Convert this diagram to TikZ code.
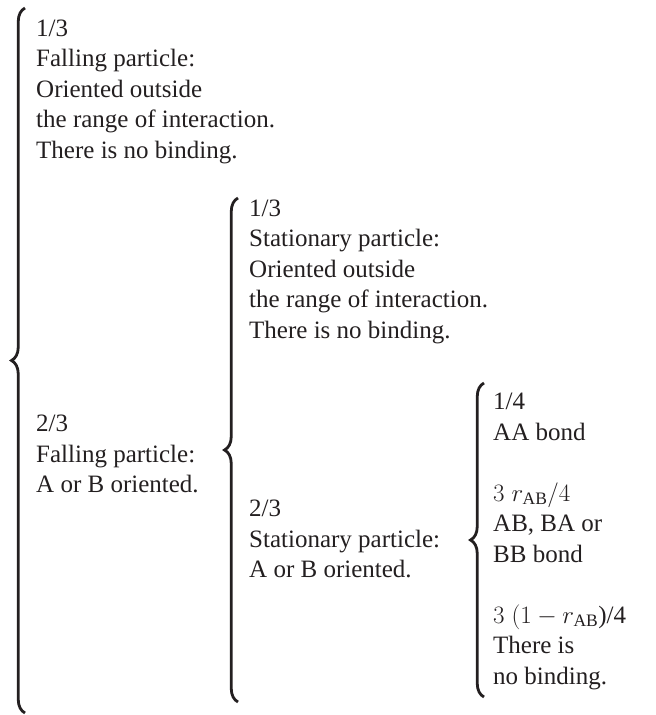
\RequirePackage{fix-cm}
\documentclass[tikz,border=0pt]{standalone}
\usepackage{fontspec}
\setmainfont{Liberation Serif}
\usepackage{tikz}
\usetikzlibrary{decorations.pathreplacing}
\definecolor{inkgray}{HTML}{231F20}

\begin{document}
\begin{tikzpicture}[x=1pt,y=-1pt,
    choice/.style={anchor=north west,inner sep=0pt,align=left,text=inkgray,
      font=\fontsize{25pt}{30.5pt}\selectfont},
    curly/.style={draw=inkgray,line width=2.8pt,decorate,
      decoration={brace,amplitude=13.5pt}}]
  \useasboundingbox (0,0) rectangle (656,715);
  % falling particle
  \coordinate (fallbot) at (25,713);
  \coordinate (falltop) at (25,8);
  \draw[curly] (fallbot) -- (falltop);
  \node[choice] (fallout) at (36,19.5) {1/3\\Falling particle:\\Oriented outside\\the range of interaction.\\There is no binding.};
  \node[choice] (fallab) at (36,415) {2/3\\Falling particle:\\A or B oriented.};
  % stationary particle
  \coordinate (statbot) at (238,702);
  \coordinate (stattop) at (238,198);
  \draw[curly] (statbot) -- (stattop);
  \node[choice] (statout) at (249,199.5) {1/3\\Stationary particle:\\Oriented outside\\the range of interaction.\\There is no binding.};
  \node[choice] (statab) at (249,500) {2/3\\Stationary particle:\\A or B oriented.};
  % bond types
  \coordinate (bondbot) at (484,697);
  \coordinate (bondtop) at (484,383);
  \draw[curly] (bondbot) -- (bondtop);
  \node[choice] (bonds) at (493,393) {1/4\\AA bond\\[30.5pt]$3\;r_{\mathrm{AB}}/4$\\AB, BA or\\BB bond\\[30.5pt]$3\;(1-r_{\mathrm{AB}}$)/4\\There is\\no binding.};
\end{tikzpicture}
\end{document}
